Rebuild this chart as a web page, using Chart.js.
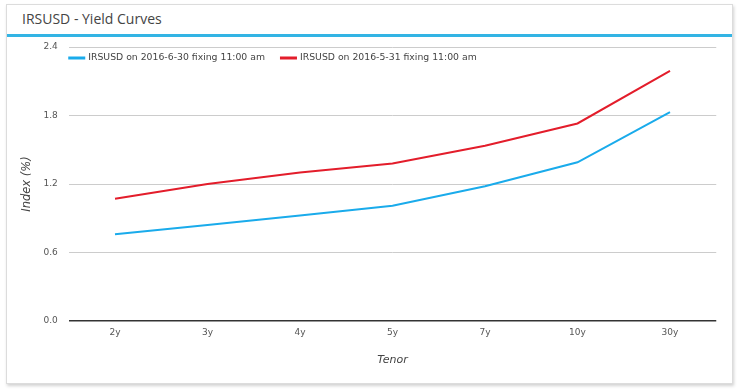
<!DOCTYPE html>
<html>
<head>
<meta charset="utf-8">
<script src="https://cdn.jsdelivr.net/npm/chart.js@4/dist/chart.umd.min.js"></script>
<style>
  html, body { margin: 0; padding: 0; background: #ffffff; width: 739px; height: 392px; overflow: hidden; }
  .card { position: absolute; left: 6px; top: 4px; width: 725px; height: 378px; background: #fff;
          border: 1px solid #dcdcdc; box-shadow: 1px 2px 3px rgba(0,0,0,0.18); }
  .title { position: absolute; left: 15px; top: 4px; font-family: "Open Sans", sans-serif; font-size: 14px; color: #444; }
  .bar { position: absolute; left: 0; top: 29px; width: 725px; height: 3px; background: #33b4e4; }
  canvas { position: absolute; left: 0; top: 0; }
</style>
</head>
<body>
<div class="card"><div class="title">IRSUSD - Yield Curves</div><div class="bar"></div></div>
<canvas id="c" width="739" height="392"></canvas>
<script>
const categories = ["2y", "3y", "4y", "5y", "7y", "10y", "30y"];
const seriesJune = [0.76, 0.84, 0.925, 1.01, 1.18, 1.39, 1.83];
const seriesMay = [1.07, 1.20, 1.30, 1.38, 1.535, 1.73, 2.19];
const yTicks = [0.0, 0.6, 1.2, 1.8, 2.4];
const labelJune = "IRSUSD on 2016-6-30 fixing 11:00 am";
const labelMay = "IRSUSD on 2016-5-31 fixing 11:00 am";

const tickFont = { family: "DejaVu Sans", size: 9 };
const legendFont = "9.3px 'DejaVu Sans'";

const insideLegend = {
  id: 'insideLegend',
  afterDraw(chart) {
    const ctx = chart.ctx;
    const area = chart.chartArea;
    let x = area.left - 0.5;
    const y = area.top + 11;
    ctx.save();
    ctx.font = legendFont;
    ctx.textBaseline = 'middle';
    ctx.textAlign = 'left';
    chart.data.datasets.forEach(ds => {
      ctx.fillStyle = ds.borderColor;
      ctx.fillRect(x, y - 1.5, 17, 3);
      x += 20;
      ctx.fillStyle = '#444';
      ctx.fillText(ds.label, x, y);
      x += ctx.measureText(ds.label).width + 15;
    });
    ctx.restore();
  }
};

new Chart(document.getElementById('c'), {
  type: 'line',
  data: {
    labels: categories,
    datasets: [
      { label: labelJune, data: seriesJune, borderColor: '#1aabeb', backgroundColor: '#1aabeb', borderWidth: 2, pointRadius: 0, tension: 0, fill: false },
      { label: labelMay, data: seriesMay, borderColor: '#e31d2b', backgroundColor: '#e31d2b', borderWidth: 2, pointRadius: 0, tension: 0, fill: false }
    ]
  },
  plugins: [insideLegend],
  options: {
    responsive: false,
    animation: false,
    layout: { padding: { left: 20, right: 22.75, top: 47, bottom: 25 } },
    plugins: {
      legend: { display: false },
      tooltip: { enabled: false }
    },
    scales: {
      x: {
        offset: true,
        grid: { display: false, drawTicks: false },
        border: { display: false },
        ticks: { color: '#555', font: tickFont, padding: 6, maxRotation: 0 },
        title: { display: true, text: 'Tenor', color: '#444', font: { family: "DejaVu Sans", size: 11, style: 'italic' }, padding: 0 },
        afterFit: s => { s.height = 46; }
      },
      y: {
        min: 0, max: 2.4,
        afterBuildTicks: s => { s.ticks = yTicks.map(v => ({ value: v })); },
        grid: { drawTicks: false, color: c => (c.tick && c.tick.value === 0) ? '#333' : '#cccccc', lineWidth: c => (c.tick && c.tick.value === 0) ? 1.5 : 1 },
        border: { display: false },
        ticks: { color: '#555', font: tickFont, padding: 11, callback: v => Number(v).toFixed(1) },
        title: { display: true, text: 'Index (%)', color: '#444', font: { family: "DejaVu Sans", size: 11.5, style: 'italic' }, padding: 0 },
        afterFit: s => { s.width = 48.75; }
      }
    }
  }
});
</script>
</body>
</html>
